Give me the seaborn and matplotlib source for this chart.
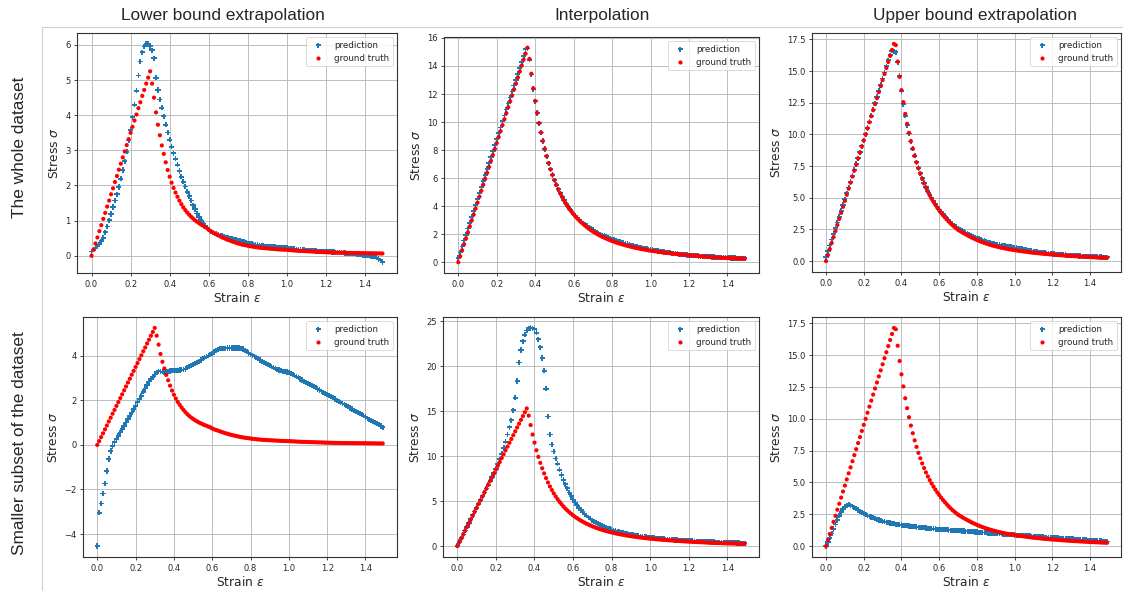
import numpy as np
import pandas as pd
import matplotlib
matplotlib.use("Agg")
import matplotlib.pyplot as plt
from matplotlib.lines import Line2D
import seaborn as sns

# Strain is sampled every 0.01 from 0.00 to 1.49 (150 points per curve)
strain = np.round(np.arange(150) * 0.01, 2)

col_titles = ["Lower bound extrapolation", "Interpolation", "Upper bound extrapolation"]
row_titles = ["The whole dataset", "Smaller subset of the dataset"]

# ground truth curves (same in both rows of a column)
gt_lower = [
    0.0, 0.17, 0.35, 0.52, 0.70, 0.87, 1.05, 1.22, 1.40, 1.57,
    1.75, 1.92, 2.10, 2.27, 2.45, 2.62, 2.80, 2.97, 3.15, 3.32,
    3.50, 3.67, 3.85, 4.02, 4.20, 4.37, 4.55, 4.72, 4.90, 5.07,
    5.25, 4.90, 4.50, 4.08, 3.73, 3.43, 3.14, 2.90, 2.66, 2.44,
    2.25, 2.08, 1.93, 1.80, 1.68, 1.57, 1.47, 1.38, 1.30, 1.23,
    1.17, 1.11, 1.06, 1.01, 0.97, 0.93, 0.89, 0.86, 0.82, 0.79,
    0.74, 0.70, 0.67, 0.64, 0.61, 0.58, 0.55, 0.52, 0.50, 0.47,
    0.45, 0.43, 0.41, 0.39, 0.37, 0.35, 0.34, 0.32, 0.31, 0.30,
    0.285, 0.275, 0.265, 0.255, 0.245, 0.24, 0.23, 0.225, 0.22, 0.215,
    0.21, 0.205, 0.20, 0.195, 0.19, 0.185, 0.18, 0.178, 0.175, 0.172,
    0.17, 0.165, 0.16, 0.155, 0.15, 0.145, 0.14, 0.138, 0.135, 0.132,
    0.13, 0.127, 0.124, 0.121, 0.118, 0.115, 0.112, 0.11, 0.107, 0.104,
    0.10, 0.098, 0.096, 0.094, 0.092, 0.09, 0.088, 0.087, 0.086, 0.085,
    0.084, 0.083, 0.082, 0.081, 0.08, 0.079, 0.078, 0.077, 0.076, 0.075,
    0.074, 0.073, 0.072, 0.071, 0.07, 0.069, 0.068, 0.067, 0.066, 0.065,
]
gt_interp = [
    0.0, 0.43, 0.85, 1.28, 1.70, 2.13, 2.55, 2.98, 3.40, 3.83,
    4.25, 4.68, 5.10, 5.53, 5.95, 6.38, 6.80, 7.23, 7.65, 8.08,
    8.50, 8.93, 9.35, 9.78, 10.20, 10.63, 11.05, 11.48, 11.90, 12.33,
    12.75, 13.18, 13.60, 14.03, 14.45, 14.88, 15.30, 14.50, 13.45, 12.40,
    11.50, 10.65, 9.92, 9.25, 8.65, 8.08, 7.56, 7.07, 6.63, 6.23,
    5.86, 5.52, 5.21, 4.92, 4.66, 4.41, 4.18, 3.97, 3.77, 3.59,
    3.42, 3.26, 3.11, 2.97, 2.84, 2.72, 2.60, 2.49, 2.39, 2.29,
    2.20, 2.11, 2.03, 1.95, 1.88, 1.81, 1.75, 1.69, 1.63, 1.57,
    1.52, 1.47, 1.42, 1.37, 1.33, 1.29, 1.25, 1.21, 1.17, 1.14,
    1.10, 1.07, 1.04, 1.01, 0.98, 0.95, 0.93, 0.90, 0.88, 0.85,
    0.83, 0.81, 0.79, 0.77, 0.75, 0.73, 0.71, 0.69, 0.68, 0.66,
    0.64, 0.63, 0.61, 0.60, 0.58, 0.57, 0.55, 0.54, 0.53, 0.51,
    0.50, 0.49, 0.48, 0.46, 0.45, 0.44, 0.43, 0.42, 0.41, 0.40,
    0.38, 0.37, 0.36, 0.35, 0.345, 0.34, 0.33, 0.325, 0.315, 0.31,
    0.30, 0.295, 0.29, 0.285, 0.28, 0.275, 0.27, 0.265, 0.26, 0.255,
]
gt_upper = [
    0.0, 0.48, 0.95, 1.43, 1.90, 2.38, 2.86, 3.33, 3.81, 4.29,
    4.76, 5.24, 5.72, 6.19, 6.67, 7.15, 7.62, 8.10, 8.57, 9.05,
    9.53, 10.00, 10.48, 10.96, 11.43, 11.91, 12.39, 12.86, 13.34, 13.81,
    14.29, 14.77, 15.24, 15.72, 16.20, 16.67, 17.15, 17.05, 15.75, 14.55,
    13.50, 12.55, 11.62, 10.84, 10.13, 9.47, 8.87, 8.31, 7.80, 7.33,
    6.90, 6.50, 6.13, 5.79, 5.48, 5.19, 4.92, 4.67, 4.44, 4.22,
    4.02, 3.82, 3.63, 3.46, 3.29, 3.13, 2.98, 2.84, 2.71, 2.59,
    2.47, 2.38, 2.29, 2.20, 2.12, 2.04, 1.96, 1.88, 1.81, 1.74,
    1.67, 1.61, 1.55, 1.49, 1.44, 1.39, 1.34, 1.29, 1.25, 1.21,
    1.17, 1.13, 1.10, 1.06, 1.03, 1.00, 0.97, 0.94, 0.92, 0.89,
    0.87, 0.85, 0.82, 0.80, 0.78, 0.76, 0.74, 0.72, 0.70, 0.68,
    0.66, 0.65, 0.63, 0.62, 0.60, 0.59, 0.57, 0.56, 0.55, 0.53,
    0.52, 0.51, 0.50, 0.49, 0.47, 0.46, 0.45, 0.44, 0.43, 0.42,
    0.41, 0.40, 0.39, 0.385, 0.375, 0.365, 0.36, 0.35, 0.34, 0.33,
    0.32, 0.315, 0.31, 0.30, 0.295, 0.29, 0.28, 0.275, 0.27, 0.26,
]

# predictions trained on the whole dataset
pred_whole_lower = [
    0.12, 0.18, 0.22, 0.27, 0.32, 0.41, 0.51, 0.67, 0.83, 1.01,
    1.19, 1.39, 1.57, 1.75, 1.96, 2.19, 2.44, 2.69, 2.96, 3.28,
    3.58, 3.94, 4.30, 4.70, 5.13, 5.53, 5.79, 5.96, 6.03, 6.03,
    5.97, 5.85, 5.62, 5.07, 4.72, 4.45, 4.21, 3.97, 3.73, 3.51,
    3.30, 3.10, 2.92, 2.76, 2.59, 2.41, 2.25, 2.11, 1.97, 1.82,
    1.70, 1.57, 1.44, 1.33, 1.20, 1.11, 1.01, 0.93, 0.86, 0.80,
    0.75, 0.70, 0.67, 0.64, 0.62, 0.60, 0.58, 0.57, 0.55, 0.53,
    0.52, 0.50, 0.49, 0.47, 0.46, 0.44, 0.43, 0.41, 0.40, 0.38,
    0.36, 0.35, 0.34, 0.33, 0.32, 0.31, 0.30, 0.29, 0.28, 0.275,
    0.27, 0.265, 0.26, 0.255, 0.25, 0.245, 0.24, 0.235, 0.23, 0.225,
    0.22, 0.215, 0.21, 0.20, 0.19, 0.185, 0.18, 0.175, 0.17, 0.165,
    0.16, 0.155, 0.15, 0.145, 0.14, 0.135, 0.13, 0.127, 0.124, 0.122,
    0.12, 0.117, 0.114, 0.11, 0.106, 0.102, 0.098, 0.094, 0.09, 0.085,
    0.08, 0.075, 0.07, 0.065, 0.06, 0.055, 0.05, 0.04, 0.03, 0.02,
    0.01, 0.005, 0.0, -0.005, -0.01, -0.02, -0.05, -0.09, -0.13, -0.18,
]
pred_whole_interp = [
    0.30, 0.70, 1.12, 1.55, 1.97, 2.40, 2.82, 3.25, 3.67, 4.10,
    4.52, 4.95, 5.37, 5.80, 6.22, 6.65, 7.07, 7.50, 7.92, 8.35,
    8.77, 9.20, 9.62, 10.05, 10.47, 10.90, 11.32, 11.75, 12.17, 12.60,
    13.02, 13.45, 13.87, 14.30, 14.72, 15.20, 15.25, 14.45, 13.40, 12.35,
    11.48, 10.65, 9.92, 9.25, 8.65, 8.08, 7.56, 7.07, 6.63, 6.23,
    5.86, 5.52, 5.21, 4.93, 4.67, 4.42, 4.20, 3.99, 3.80, 3.62,
    3.46, 3.31, 3.17, 3.03, 2.91, 2.79, 2.68, 2.58, 2.48, 2.39,
    2.30, 2.22, 2.14, 2.07, 2.00, 1.93, 1.87, 1.81, 1.75, 1.70,
    1.65, 1.60, 1.55, 1.50, 1.46, 1.42, 1.38, 1.34, 1.30, 1.26,
    1.21, 1.17, 1.14, 1.10, 1.07, 1.04, 1.01, 0.98, 0.95, 0.92,
    0.90, 0.87, 0.85, 0.82, 0.80, 0.78, 0.75, 0.73, 0.71, 0.69,
    0.67, 0.65, 0.63, 0.62, 0.60, 0.58, 0.57, 0.55, 0.54, 0.52,
    0.51, 0.50, 0.48, 0.47, 0.46, 0.45, 0.44, 0.43, 0.42, 0.41,
    0.40, 0.39, 0.38, 0.37, 0.36, 0.355, 0.35, 0.34, 0.335, 0.33,
    0.32, 0.315, 0.31, 0.305, 0.30, 0.295, 0.29, 0.285, 0.28, 0.28,
]
pred_whole_upper = [
    0.32, 0.78, 1.24, 1.70, 2.15, 2.60, 3.06, 3.51, 3.97, 4.43,
    4.89, 5.35, 5.81, 6.27, 6.73, 7.20, 7.66, 8.13, 8.59, 9.06,
    9.53, 10.02, 10.51, 11.00, 11.48, 11.97, 12.46, 12.95, 13.44, 13.93,
    14.42, 14.90, 15.38, 15.85, 16.25, 16.60, 16.52, 16.48, 15.70, 14.62,
    13.42, 12.38, 11.48, 10.72, 10.08, 9.45, 8.86, 8.31, 7.81, 7.35,
    6.93, 6.54, 6.18, 5.84, 5.53, 5.25, 4.98, 4.73, 4.50, 4.28,
    4.08, 3.89, 3.71, 3.54, 3.38, 3.23, 3.09, 2.96, 2.84, 2.72,
    2.60, 2.50, 2.40, 2.31, 2.22, 2.14, 2.06, 1.99, 1.92, 1.86,
    1.80, 1.74, 1.69, 1.64, 1.59, 1.54, 1.50, 1.45, 1.41, 1.37,
    1.34, 1.31, 1.28, 1.25, 1.22, 1.19, 1.17, 1.14, 1.12, 1.10,
    1.08, 1.05, 1.02, 0.99, 0.96, 0.93, 0.90, 0.87, 0.84, 0.81,
    0.78, 0.76, 0.73, 0.71, 0.69, 0.67, 0.65, 0.63, 0.61, 0.60,
    0.58, 0.57, 0.55, 0.54, 0.52, 0.51, 0.50, 0.48, 0.47, 0.46,
    0.45, 0.44, 0.43, 0.42, 0.41, 0.40, 0.39, 0.38, 0.375, 0.37,
    0.36, 0.35, 0.345, 0.34, 0.33, 0.325, 0.32, 0.31, 0.305, 0.30,
]

# predictions trained on the smaller subset
pred_small_lower = [
    -4.54, -3.05, -2.63, -2.18, -1.73, -1.17, -0.63, -0.27, -0.05, 0.12,
    0.27, 0.41, 0.56, 0.71, 0.86, 1.00, 1.16, 1.31, 1.46, 1.61,
    1.76, 1.91, 2.06, 2.21, 2.38, 2.53, 2.69, 2.84, 2.96, 3.05,
    3.16, 3.26, 3.31, 3.29, 3.28, 3.26, 3.28, 3.31, 3.32, 3.34,
    3.34, 3.35, 3.35, 3.36, 3.37, 3.38, 3.41, 3.46, 3.51, 3.56,
    3.61, 3.66, 3.71, 3.76, 3.81, 3.86, 3.91, 3.96, 4.01, 4.06,
    4.11, 4.17, 4.23, 4.28, 4.31, 4.33, 4.34, 4.34, 4.35, 4.35,
    4.35, 4.35, 4.35, 4.35, 4.35, 4.34, 4.30, 4.24, 4.18, 4.12,
    4.07, 4.02, 3.97, 3.91, 3.86, 3.81, 3.76, 3.71, 3.66, 3.61,
    3.56, 3.51, 3.46, 3.42, 3.38, 3.36, 3.34, 3.31, 3.29, 3.27,
    3.26, 3.21, 3.16, 3.11, 3.06, 3.01, 2.96, 2.91, 2.86, 2.81,
    2.76, 2.71, 2.66, 2.61, 2.56, 2.51, 2.46, 2.41, 2.36, 2.31,
    2.26, 2.21, 2.16, 2.11, 2.06, 2.01, 1.96, 1.91, 1.86, 1.81,
    1.76, 1.71, 1.66, 1.61, 1.56, 1.51, 1.46, 1.41, 1.36, 1.31,
    1.25, 1.20, 1.15, 1.10, 1.05, 1.00, 0.95, 0.90, 0.85, 0.79,
]
pred_small_interp = [
    0.05, 0.45, 0.88, 1.30, 1.72, 2.15, 2.57, 3.00, 3.42, 3.85,
    4.27, 4.70, 5.12, 5.55, 5.97, 6.40, 6.82, 7.25, 7.67, 8.10,
    8.60, 9.10, 9.65, 10.25, 10.90, 11.60, 12.40, 13.20, 14.00, 15.10,
    16.50, 18.36, 20.40, 21.80, 22.76, 23.50, 23.96, 24.20, 24.25, 24.20,
    24.10, 23.70, 23.00, 22.10, 20.90, 19.50, 17.50, 14.40, 12.40, 11.30,
    10.50, 9.74, 9.14, 8.47, 7.90, 7.35, 6.87, 6.42, 5.97, 5.56,
    5.19, 4.85, 4.55, 4.27, 4.02, 3.79, 3.58, 3.38, 3.20, 3.03,
    2.88, 2.74, 2.61, 2.49, 2.38, 2.27, 2.17, 2.08, 1.99, 1.91,
    1.84, 1.77, 1.70, 1.64, 1.58, 1.52, 1.47, 1.42, 1.37, 1.32,
    1.28, 1.24, 1.20, 1.16, 1.13, 1.09, 1.06, 1.03, 1.00, 0.97,
    0.95, 0.92, 0.90, 0.87, 0.85, 0.83, 0.81, 0.79, 0.77, 0.75,
    0.73, 0.72, 0.70, 0.68, 0.67, 0.65, 0.64, 0.63, 0.61, 0.60,
    0.59, 0.58, 0.56, 0.55, 0.54, 0.53, 0.52, 0.51, 0.50, 0.49,
    0.48, 0.47, 0.46, 0.45, 0.44, 0.43, 0.42, 0.41, 0.405, 0.40,
    0.39, 0.38, 0.37, 0.36, 0.355, 0.35, 0.34, 0.33, 0.32, 0.31,
]
pred_small_upper = [
    0.0, 0.32, 0.66, 1.00, 1.35, 1.70, 2.05, 2.38, 2.68, 2.94,
    3.12, 3.22, 3.26, 3.22, 3.13, 3.03, 2.93, 2.83, 2.73, 2.63,
    2.55, 2.48, 2.41, 2.34, 2.28, 2.22, 2.16, 2.10, 2.05, 2.00,
    1.95, 1.91, 1.87, 1.84, 1.81, 1.78, 1.75, 1.72, 1.70, 1.68,
    1.66, 1.64, 1.62, 1.60, 1.58, 1.56, 1.54, 1.52, 1.50, 1.48,
    1.47, 1.45, 1.44, 1.42, 1.41, 1.39, 1.38, 1.36, 1.35, 1.33,
    1.32, 1.31, 1.30, 1.29, 1.28, 1.27, 1.25, 1.24, 1.23, 1.22,
    1.21, 1.20, 1.19, 1.18, 1.17, 1.16, 1.15, 1.14, 1.12, 1.11,
    1.10, 1.09, 1.08, 1.07, 1.06, 1.05, 1.03, 1.02, 1.01, 1.00,
    0.99, 0.98, 0.97, 0.96, 0.95, 0.93, 0.92, 0.91, 0.90, 0.89,
    0.87, 0.86, 0.85, 0.84, 0.83, 0.82, 0.81, 0.80, 0.79, 0.78,
    0.76, 0.75, 0.74, 0.73, 0.72, 0.71, 0.70, 0.69, 0.68, 0.67,
    0.66, 0.65, 0.64, 0.63, 0.62, 0.61, 0.60, 0.59, 0.58, 0.57,
    0.56, 0.55, 0.54, 0.53, 0.52, 0.51, 0.50, 0.49, 0.48, 0.47,
    0.46, 0.45, 0.44, 0.43, 0.42, 0.41, 0.40, 0.39, 0.38, 0.37,
]

predictions = [
    [pred_whole_lower, pred_whole_interp, pred_whole_upper],
    [pred_small_lower, pred_small_interp, pred_small_upper],
]
ground_truth = [gt_lower, gt_interp, gt_upper]

BLUE = "#1f77b4"
RED = "red"

sns.set_style("whitegrid", {
    "axes.edgecolor": "#333333",
    "axes.linewidth": 0.8,
    "grid.color": "#bdbdbd",
    "xtick.bottom": True,
    "ytick.left": True,
    "xtick.color": "#262626",
    "ytick.color": "#262626",
})
plt.rcParams["font.family"] = ["DejaVu Sans"]
plt.rcParams["xtick.labelsize"] = 6
plt.rcParams["ytick.labelsize"] = 6
plt.rcParams["xtick.major.size"] = 2.2
plt.rcParams["ytick.major.size"] = 2.2
plt.rcParams["xtick.major.width"] = 0.6
plt.rcParams["ytick.major.width"] = 0.6
plt.rcParams["xtick.major.pad"] = 2.5
plt.rcParams["ytick.major.pad"] = 2.5
plt.rcParams["grid.linewidth"] = 0.7

W, H = 1123, 591
fig = plt.figure(figsize=(W / 100, H / 100), dpi=100)

# axes boxes in pixels: left, top, right, bottom
boxes = [
    [(77, 33, 397, 273), (444, 37, 759, 273), (812, 33, 1121, 272)],
    [(83, 317, 397, 557), (443, 317, 759, 557), (812, 317, 1121, 557)],
]

handles = [
    Line2D([], [], ls="", marker="P", markersize=3.6, color=BLUE, markeredgewidth=0),
    Line2D([], [], ls="", marker="o", markersize=3.0, color=RED, markeredgewidth=0),
]

for r in range(2):
    for c in range(3):
        l, t, rr, b = boxes[r][c]
        ax = fig.add_axes([l / W, (H - b) / H, (rr - l) / W, (b - t) / H])
        df = pd.DataFrame({"strain": strain,
                           "pred": predictions[r][c],
                           "gt": ground_truth[c]})
        sns.scatterplot(data=df, x="strain", y="pred", ax=ax, marker="P",
                        s=14, color=BLUE, edgecolor="none", linewidth=0,
                        legend=False)
        sns.scatterplot(data=df, x="strain", y="gt", ax=ax, marker="o",
                        s=9, color=RED, edgecolor="none", linewidth=0,
                        legend=False)
        ax.set_xlabel("Strain $\\varepsilon$", fontsize=8.8, labelpad=1.5)
        ax.set_ylabel("Stress $\\sigma$", fontsize=8.8, labelpad=3)
        ax.set_xticks([0.0, 0.2, 0.4, 0.6, 0.8, 1.0, 1.2, 1.4])
        ax.grid(True)
        for sp in ax.spines.values():
            sp.set_color("#333333")
            sp.set_linewidth(0.8)
        leg = ax.legend(handles, ["prediction", "ground truth"], loc="upper right",
                        fontsize=6.3, frameon=True, framealpha=0.8,
                        edgecolor="#cccccc", fancybox=True,
                        borderpad=0.4, labelspacing=0.45)
        leg.get_frame().set_linewidth(0.6)

title_x = [223, 602, 975]
for c in range(3):
    fig.text(title_x[c] / W, (H - 20) / H, col_titles[c], ha="center",
             va="baseline", fontsize=12.4, family=["Liberation Sans", "DejaVu Sans"])

row_y = [147, 443]
for r in range(2):
    fig.text(20 / W, (H - row_y[r]) / H, row_titles[r], ha="center",
             va="center", rotation=90, fontsize=12.4,
             family=["Liberation Sans", "DejaVu Sans"])

# thin separators between the headers and the grid of plots
fig.add_artist(Line2D([42 / W, 1.0], [(H - 27) / H, (H - 27) / H],
                      transform=fig.transFigure, color="#cfcfcf", lw=0.8))
fig.add_artist(Line2D([42 / W, 42 / W], [0.0, (H - 27) / H],
                      transform=fig.transFigure, color="#cfcfcf", lw=0.8))

fig.savefig("out.png", dpi=100)
